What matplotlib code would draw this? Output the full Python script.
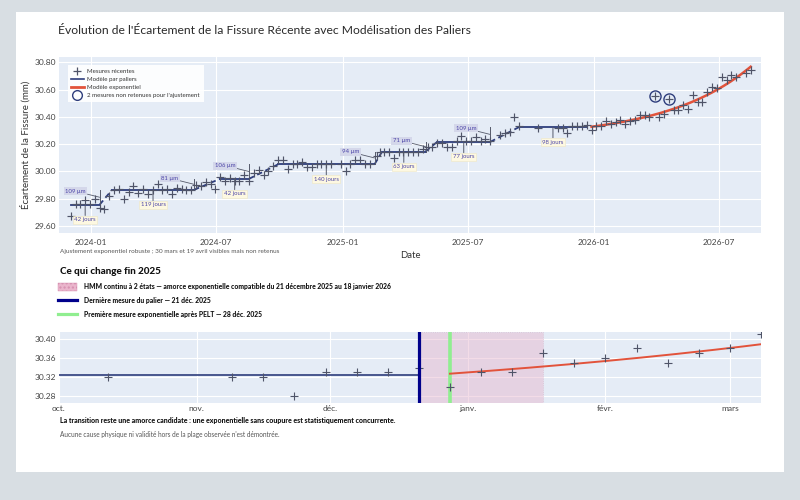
import numpy as np
import pandas as pd
import matplotlib
matplotlib.use("Agg")
import matplotlib.pyplot as plt
import matplotlib.dates as mdates
from matplotlib.lines import Line2D
from matplotlib.patches import Rectangle
from matplotlib.ticker import FuncFormatter, FormatStrFormatter

plt.rcParams['font.family'] = ['Lato', 'DejaVu Sans']

# mesures (date, écartement en mm)
dates = [
    "2023-12-03", "2023-12-10", "2023-12-17", "2023-12-24", "2023-12-31", "2024-01-07",
    "2024-01-14", "2024-01-21", "2024-01-28", "2024-02-04", "2024-02-11", "2024-02-18",
    "2024-02-25", "2024-03-03", "2024-03-10", "2024-03-17", "2024-03-24", "2024-03-31",
    "2024-04-07", "2024-04-14", "2024-04-21", "2024-04-28", "2024-05-05", "2024-05-12",
    "2024-05-19", "2024-05-26", "2024-06-02", "2024-06-09", "2024-06-16", "2024-06-23",
    "2024-06-30", "2024-07-07", "2024-07-14", "2024-07-21", "2024-07-28", "2024-08-04",
    "2024-08-11", "2024-08-18", "2024-08-25", "2024-09-01", "2024-09-08", "2024-09-15",
    "2024-09-22", "2024-09-29", "2024-10-06", "2024-10-13", "2024-10-20", "2024-10-27",
    "2024-11-03", "2024-11-10", "2024-11-17", "2024-11-24", "2024-12-01", "2024-12-08",
    "2024-12-15", "2024-12-29", "2025-01-05", "2025-01-12", "2025-01-19", "2025-01-26",
    "2025-02-02", "2025-02-09", "2025-02-19", "2025-02-24", "2025-03-02", "2025-03-09",
    "2025-03-16", "2025-03-23", "2025-03-30", "2025-04-06", "2025-04-13", "2025-04-20",
    "2025-04-27", "2025-05-04", "2025-05-11", "2025-05-18", "2025-05-25", "2025-06-01",
    "2025-06-08", "2025-06-15", "2025-06-22", "2025-06-29", "2025-07-06", "2025-07-13",
    "2025-07-20", "2025-07-27", "2025-08-03", "2025-08-17", "2025-08-24", "2025-08-31",
    "2025-09-07", "2025-09-14", "2025-10-12", "2025-11-09", "2025-11-16", "2025-11-23",
    "2025-11-30", "2025-12-07", "2025-12-14", "2025-12-21", "2025-12-28", "2026-01-04",
    "2026-01-11", "2026-01-18", "2026-01-25", "2026-02-01", "2026-02-08", "2026-02-15",
    "2026-02-22", "2026-03-01", "2026-03-08", "2026-03-15", "2026-03-22", "2026-03-30",
    "2026-04-05", "2026-04-12", "2026-04-19", "2026-04-26", "2026-05-03", "2026-05-10",
    "2026-05-17", "2026-05-24", "2026-05-31", "2026-06-07", "2026-06-14", "2026-06-21",
    "2026-06-28", "2026-07-05", "2026-07-12", "2026-07-19", "2026-07-26", "2026-08-09",
    "2026-08-16",
]
values = [
    29.67, 29.76, 29.76, 29.79, 29.76, 29.80,
    29.73, 29.72, 29.82, 29.86, 29.87, 29.80,
    29.85, 29.89, 29.84, 29.87, 29.83, 29.86,
    29.91, 29.86, 29.87, 29.83, 29.88, 29.87,
    29.86, 29.86, 29.90, 29.89, 29.92, 29.91,
    29.87, 29.96, 29.93, 29.95, 29.93, 29.93,
    29.97, 29.93, 29.99, 30.01, 29.97, 30.00,
    30.04, 30.08, 30.08, 30.02, 30.05, 30.05,
    30.07, 30.03, 30.03, 30.05, 30.05, 30.05,
    30.05, 30.05, 30.00, 30.05, 30.08, 30.08,
    30.05, 30.05, 30.11, 30.14, 30.14, 30.14,
    30.10, 30.14, 30.14, 30.14, 30.14, 30.14,
    30.16, 30.18, 30.18, 30.21, 30.21, 30.18,
    30.18, 30.22, 30.26, 30.22, 30.22, 30.25,
    30.22, 30.24, 30.22, 30.27, 30.28, 30.29,
    30.40, 30.33, 30.32, 30.32, 30.32, 30.28,
    30.33, 30.33, 30.33, 30.34, 30.30, 30.33,
    30.33, 30.37, 30.35, 30.36, 30.38, 30.35,
    30.37, 30.38, 30.41, 30.41, 30.40, 30.55,
    30.40, 30.42, 30.53, 30.45, 30.45, 30.485,
    30.46, 30.56, 30.51, 30.51, 30.58, 30.62,
    30.61, 30.69, 30.67, 30.71, 30.69, 30.72,
    30.74,
]
excluded_dates = ["2026-03-30", "2026-04-19"]

# modèle par paliers
plateau_start = ["2023-12-03", "2024-02-01", "2024-07-07", "2024-09-29",
                 "2025-02-27", "2025-05-18", "2025-09-14"]
plateau_end = ["2024-01-14", "2024-05-30", "2024-08-18", "2025-02-16",
               "2025-05-01", "2025-08-03", "2025-12-21"]
plateau_level = [29.755, 29.864, 29.945, 30.051, 30.145, 30.216, 30.325]

# modèle exponentiel  y = base + amp * (exp(rate * t) - 1)
expo_start = "2025-12-28"
expo_end = "2026-08-16"
expo_base = 30.327
expo_amp = 0.0824
expo_rate = 0.008

hmm_start = "2025-12-21"
hmm_end = "2026-01-18"
last_plateau_date = "2025-12-21"
first_expo_date = "2025-12-28"

mois_fr = {1: "janv.", 2: "févr.", 3: "mars", 4: "avr.", 5: "mai", 6: "juin",
           7: "juil.", 8: "août", 9: "sept.", 10: "oct.", 11: "nov.", 12: "déc."}

navy = "#2e3d7c"
red = "#e2533b"
grey = "#4f5468"
bg = "#e5ecf6"
lab_col = "#4b44a8"

d = pd.to_datetime(dates)
v = np.array(values)
exc = pd.to_datetime(excluded_dates)
exc_v = v[d.isin(exc)]
ps = pd.to_datetime(plateau_start)
pe = pd.to_datetime(plateau_end)

e0 = pd.Timestamp(expo_start)
ndays = (pd.Timestamp(expo_end) - e0).days
t = np.arange(0, ndays + 1)
expo_x = e0 + pd.to_timedelta(t, unit="D")
expo_y = expo_base + expo_amp * (np.exp(expo_rate * t) - 1)

fig = plt.figure(figsize=(8, 5), dpi=100)
fig.patch.set_facecolor("#d8dee3")
fig.add_artist(Rectangle((16 / 800, 1 - 472 / 500), 768 / 800, 460 / 500,
                         transform=fig.transFigure, facecolor="white", edgecolor="none", zorder=0))


def style(ax):
    ax.set_facecolor(bg)
    for s in ax.spines.values():
        s.set_visible(False)
    ax.grid(True, color="white", lw=0.8)
    ax.set_axisbelow(True)
    ax.tick_params(length=0, labelsize=6, colors="#444444", pad=4)


# ---------- graphique principal ----------
ax = fig.add_axes([59 / 800, 1 - 233 / 500, 702 / 800, 176 / 500])
style(ax)
ax.tick_params(axis="y", pad=2)

n = len(plateau_level)
for i in range(n):
    ax.plot([ps[i], pe[i]], [plateau_level[i]] * 2, color=navy, lw=1.3, zorder=3)
    if i + 1 < n:
        ax.plot([pe[i], ps[i + 1]], [plateau_level[i], plateau_level[i + 1]],
                color=navy, lw=1.3, ls=(0, (3, 2)), zorder=3)
        # saut entre paliers
        ax.plot([pe[i], pe[i]], [plateau_level[i], plateau_level[i + 1]],
                color="#555a6a", lw=0.7, zorder=3)
        jump = round((plateau_level[i + 1] - plateau_level[i]) * 1000)
        ax.annotate(f"{jump} µm", xy=(pe[i], (plateau_level[i] + plateau_level[i + 1]) / 2),
                    xytext=(-24, 6), textcoords="offset pixels", ha="center", va="center",
                    fontsize=4.3, color=lab_col, zorder=5,
                    bbox=dict(boxstyle="square,pad=0.25", fc="#d4d7ea", ec="none"),
                    arrowprops=dict(arrowstyle="-", color="#555a6a", lw=0.6,
                                    shrinkA=0, shrinkB=0))
    mid = ps[i] + (pe[i] - ps[i]) / 2
    ax.annotate(f"{(pe[i] - ps[i]).days} jours", xy=(mid, plateau_level[i]),
                xytext=(0, -15), textcoords="offset pixels", ha="center", va="center",
                fontsize=4.3, color=lab_col, zorder=5,
                bbox=dict(boxstyle="square,pad=0.25", fc="#fdf8e1", ec="#eee6c4", lw=0.4),
                arrowprops=dict(arrowstyle="-", color="#555a6a", lw=0.7,
                                shrinkA=0, shrinkB=0))

ax.plot(expo_x, expo_y, color=red, lw=1.8, zorder=4)
ax.plot(d, v, ls="none", marker="+", ms=5.8, mew=0.85, color=grey, zorder=4)
ax.plot(exc, exc_v, ls="none", marker="o", ms=8, mfc="none", mec=navy, mew=1.0, zorder=5)

ax.set_xlim(pd.Timestamp("2023-11-16"), pd.Timestamp("2026-08-31"))
ax.set_ylim(29.547, 30.839)
ax.set_yticks(np.arange(29.6, 30.81, 0.2))
ax.yaxis.set_major_formatter(FormatStrFormatter("%.2f"))
ax.xaxis.set_major_locator(mdates.MonthLocator(bymonth=[1, 7]))
ax.xaxis.set_major_formatter(mdates.DateFormatter("%Y-%m"))
ax.set_ylabel("Écartement de la Fissure (mm)", fontsize=7, color="#333333", labelpad=3)

handles = [
    Line2D([], [], ls="none", marker="+", ms=5.5, mew=0.9, color=grey),
    Line2D([], [], color=navy, lw=1.2),
    Line2D([], [], color=red, lw=2),
    Line2D([], [], ls="none", marker="o", ms=7, mfc="none", mec=navy, mew=1.0),
]
labels = ["Mesures récentes", "Modèle par paliers", "Modèle exponentiel",
          "2 mesures non retenues pour l'ajustement"]
leg = ax.legend(handles, labels, loc="upper left", fontsize=4.4, frameon=True,
                facecolor="white", edgecolor="none", framealpha=0.9,
                handlelength=2.0, handletextpad=0.6, borderpad=0.6, labelspacing=0.45,
                bbox_to_anchor=(0.008, 0.97), fancybox=False)
for txt in leg.get_texts():
    txt.set_color("#333333")

fig.text(410 / 800, 1 - 255 / 500, "Date", ha="center", va="center",
         fontsize=6.8, color="#333333")
fig.text(60 / 800, 1 - 251 / 500,
         "Ajustement exponentiel robuste ; 30 mars et 19 avril visibles mais non retenus",
         ha="left", va="center", fontsize=4.6, color="#555555")
fig.text(58 / 800, 1 - 31 / 500,
         "Évolution de l'Écartement de la Fissure Récente avec Modélisation des Paliers",
         ha="left", va="center", fontsize=8.7, color="#2a2a2a")

# ---------- légende du zoom ----------
fig.text(60 / 800, 1 - 271 / 500, "Ce qui change fin 2025", ha="left", va="center",
         fontsize=7.1, fontweight=900, color="#111111")
fig.add_artist(Rectangle((58 / 800, 1 - 291 / 500), 19 / 800, 8 / 500,
                         transform=fig.transFigure, facecolor="#eab5cc",
                         edgecolor="#d690b0", hatch="....", lw=0.3))
fig.add_artist(Line2D([58 / 800, 77 / 800], [1 - 300 / 500] * 2,
                      transform=fig.transFigure, color="#00008b", lw=2.3))
fig.add_artist(Line2D([58 / 800, 77 / 800], [1 - 314 / 500] * 2,
                      transform=fig.transFigure, color="#90ee90", lw=2.3))
entries = [
    "HMM continu à 2 états — amorce exponentielle compatible du 21 décembre 2025 au 18 janvier 2026",
    "Dernière mesure du palier — 21 déc. 2025",
    "Première mesure exponentielle après PELT — 28 déc. 2025",
]
for yy, txt in zip([287, 300, 314], entries):
    fig.text(84 / 800, 1 - yy / 500, txt, ha="left", va="center", fontsize=4.9,
             fontweight=900, color="#111111")

# ---------- zoom fin 2025 ----------
bx = fig.add_axes([59 / 800, 1 - 402.7 / 500, 702 / 800, 70.4 / 500])
style(bx)
bx.tick_params(axis="y", pad=2)
bx.axvspan(pd.Timestamp(hmm_start), pd.Timestamp(hmm_end), facecolor="#e6b3cb", alpha=0.45,
           edgecolor="#c99ab2", ls=":", lw=0.6, zorder=1)
for i in range(n):
    bx.plot([ps[i], pe[i]], [plateau_level[i]] * 2, color=navy, lw=1.2, zorder=3)
bx.plot(expo_x, expo_y, color=red, lw=1.4, zorder=4)
bx.plot(d, v, ls="none", marker="+", ms=6, mew=0.8, color=grey, zorder=4)
bx.axvline(pd.Timestamp(last_plateau_date), color="#00008b", lw=2.3, zorder=5)
bx.axvline(pd.Timestamp(first_expo_date), color="#90ee90", lw=2.6, zorder=3.5)

bx.set_xlim(pd.Timestamp("2025-10-01"), pd.Timestamp("2026-03-08"))
bx.set_ylim(30.266, 30.414)
bx.set_yticks([30.28, 30.32, 30.36, 30.40])
bx.yaxis.set_major_formatter(FormatStrFormatter("%.2f"))
bx.xaxis.set_major_locator(mdates.MonthLocator())
bx.xaxis.set_major_formatter(FuncFormatter(lambda x, pos: mois_fr[mdates.num2date(x).month]))
bx.tick_params(axis="x", pad=2)

fig.text(60 / 800, 1 - 420 / 500,
         "La transition reste une amorce candidate : une exponentielle sans coupure est statistiquement concurrente.",
         ha="left", va="center", fontsize=5.0, fontweight=900, color="#111111")
fig.text(60 / 800, 1 - 434 / 500,
         "Aucune cause physique ni validité hors de la plage observée n'est démontrée.",
         ha="left", va="center", fontsize=4.7, color="#555555")

fig.savefig("out.png", dpi=100)
